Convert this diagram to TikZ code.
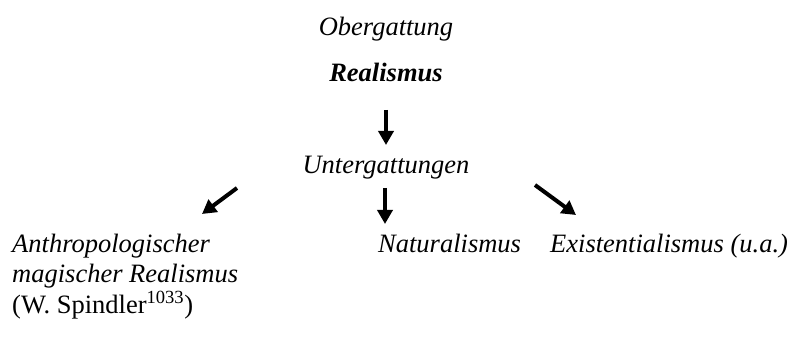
\documentclass[tikz,border=0pt]{standalone}
\usepackage{fontspec}
\setmainfont{Liberation Serif}
\usetikzlibrary{arrows.meta}
\begin{document}
\begin{tikzpicture}[x=1pt,y=-1pt,
  lbl/.style={inner sep=0pt, font=\fontsize{26.5}{30}\selectfont\itshape},
  up/.style={inner sep=0pt, font=\fontsize{26.5}{30}\selectfont\upshape},
  arr/.style={line width=4pt, -{Triangle[length=14pt,width=15pt]}}]
\useasboundingbox (0,0) rectangle (788,342);
\node[lbl, anchor=base] (ober) at (386,36) {Obergattung};
\node[lbl, anchor=base, font=\fontsize{26.5}{30}\selectfont\itshape\bfseries] (real) at (386,82) {Realismus};
\node[lbl, anchor=base] (unter) at (386,174) {Untergattungen};
\node[lbl, anchor=base west] (anth1) at (12,252) {Anthropologischer};
\node[lbl, anchor=base west] (anth2) at (12,283) {magischer Realismus};
\node[up, anchor=base west] (anth3) at (12,313) {(W. Spindler\textsuperscript{1033})};
\node[lbl, anchor=base west] (nat) at (378,252) {Naturalismus};
\node[lbl, anchor=base west] (exi) at (550,252) {Existentialismus (u.a.)};
\coordinate (a1s) at (386,110);
\coordinate (a1e) at (386,145);
\coordinate (a2s) at (237,188);
\coordinate (a2e) at (202,214);
\coordinate (a3s) at (385,188);
\coordinate (a3e) at (385,224);
\coordinate (a4s) at (535,185);
\coordinate (a4e) at (576,215);
\draw[arr] (a1s) -- (a1e);
\draw[arr] (a2s) -- (a2e);
\draw[arr] (a3s) -- (a3e);
\draw[arr] (a4s) -- (a4e);
\end{tikzpicture}
\end{document}
